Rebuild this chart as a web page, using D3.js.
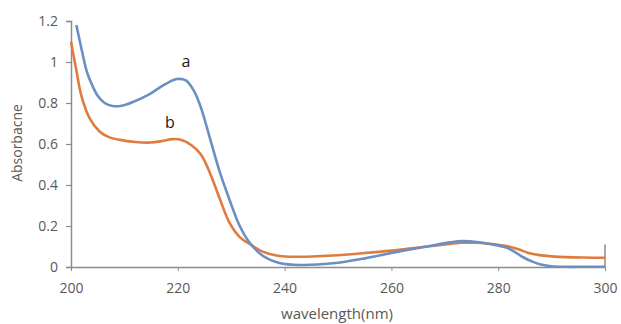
<!DOCTYPE html>
<html><head><meta charset="utf-8">
<script src="https://cdn.jsdelivr.net/npm/d3@7"></script>
<style>body{margin:0;background:#fff}svg{display:block}text{font-family:"Open Sans","Liberation Sans",sans-serif}</style>
</head><body><svg id="c" width="621" height="324"></svg>
<script>
const xTicks = [200, 220, 240, 260, 280, 300];
const yTicks = [0, 0.2, 0.4, 0.6, 0.8, 1, 1.2];
const seriesNames = ["a", "b"];
const waveA = [201, 202, 203, 204, 205, 206.3, 207.8, 209.5, 211.6, 214.8, 217.5, 219.8, 221.5, 223, 224.3, 226, 227.9, 229.7, 231.6, 233.5, 235.9, 239, 243, 249, 255, 260, 264, 267.7, 271, 273.3, 276, 279, 281.5, 283, 284.5, 286.4, 288, 290, 293, 296, 300];
const absA  = [1.18, 1.06, 0.95, 0.885, 0.835, 0.8, 0.785, 0.787, 0.805, 0.845, 0.89, 0.917, 0.91, 0.86, 0.78, 0.63, 0.46, 0.327, 0.2, 0.117, 0.055, 0.02, 0.01, 0.018, 0.042, 0.068, 0.088, 0.105, 0.12, 0.126, 0.122, 0.11, 0.095, 0.075, 0.05, 0.026, 0.012, 0.004, 0.001, 0.001, 0.001];
const waveB = [200, 201, 202, 203.6, 205.4, 207, 209.2, 212, 214.8, 217, 219, 220.7, 222.5, 224.3, 226, 227.9, 229.7, 231.6, 233.5, 235.9, 239, 242.2, 249, 255, 260, 265, 270, 273, 276, 280, 282, 283.9, 285.5, 287.7, 290, 292.7, 296, 300];
const absB  = [1.1, 0.96, 0.83, 0.72, 0.66, 0.635, 0.62, 0.61, 0.607, 0.614, 0.624, 0.62, 0.595, 0.55, 0.46, 0.33, 0.215, 0.146, 0.112, 0.075, 0.054, 0.05, 0.056, 0.068, 0.08, 0.095, 0.11, 0.118, 0.118, 0.108, 0.1, 0.085, 0.07, 0.058, 0.052, 0.048, 0.046, 0.045];

const svg = d3.select("#c");
const x = d3.scaleLinear().domain([200, 300]).range([71, 605]);
const y = d3.scaleLinear().domain([0, 1.2]).range([267, 21]);
const axisCol = "#8c8c8c", labCol = "#595959";

// y axis
const ya = svg.append("g").attr("transform", "translate(71,0)")
  .call(d3.axisLeft(y).tickValues(yTicks).tickSize(5).tickPadding(8).tickFormat(d => d3.format("~g")(d)));
ya.select(".domain").attr("stroke", axisCol).attr("stroke-width", 1.5);
ya.selectAll(".tick line").attr("stroke", axisCol).attr("stroke-width", 1.2);
ya.selectAll(".tick text").attr("fill", labCol).attr("font-size", 14);

// x axis
const xa = svg.append("g").attr("transform", "translate(0,267)")
  .call(d3.axisBottom(x).tickValues(xTicks).tickSize(4).tickPadding(12).tickSizeOuter(0));
xa.select(".domain").attr("stroke", axisCol).attr("stroke-width", 1.5);
xa.selectAll(".tick line").attr("stroke", axisCol).attr("stroke-width", 1);
xa.selectAll(".tick text").attr("fill", labCol).attr("font-size", 14);
// right end marker
svg.append("line").attr("x1", x(300)).attr("x2", x(300)).attr("y1", y(0.11)).attr("y2", y(0))
  .attr("stroke", axisCol).attr("stroke-width", 1.5);

const line = d3.line().x(d => x(d[0])).y(d => y(d[1])).curve(d3.curveCatmullRom.alpha(0.5));
const dataA = waveA.map((w, i) => [w, absA[i]]);
const dataB = waveB.map((w, i) => [w, absB[i]]);
svg.append("path").datum(dataB).attr("d", line).attr("fill", "none").attr("stroke", "#e07b3f").attr("stroke-width", 2.6);
svg.append("path").datum(dataA).attr("d", line).attr("fill", "none").attr("stroke", "#6a90c2").attr("stroke-width", 2.6);

svg.append("text").attr("x", 186).attr("y", 67).attr("text-anchor", "middle").attr("font-size", 16).attr("fill", "#1a1a1a").text(seriesNames[0]);
svg.append("text").attr("x", 170).attr("y", 128).attr("text-anchor", "middle").attr("font-size", 16).attr("fill", "#1a1a1a").text(seriesNames[1]);

svg.append("text").attr("transform", "translate(22,143) rotate(-90)").attr("text-anchor", "middle")
  .attr("font-size", 14).attr("fill", labCol).text("Absorbacne");
svg.append("text").attr("x", 337).attr("y", 319).attr("text-anchor", "middle")
  .attr("font-size", 15).attr("fill", labCol).text("wavelength(nm)");
</script></body></html>
